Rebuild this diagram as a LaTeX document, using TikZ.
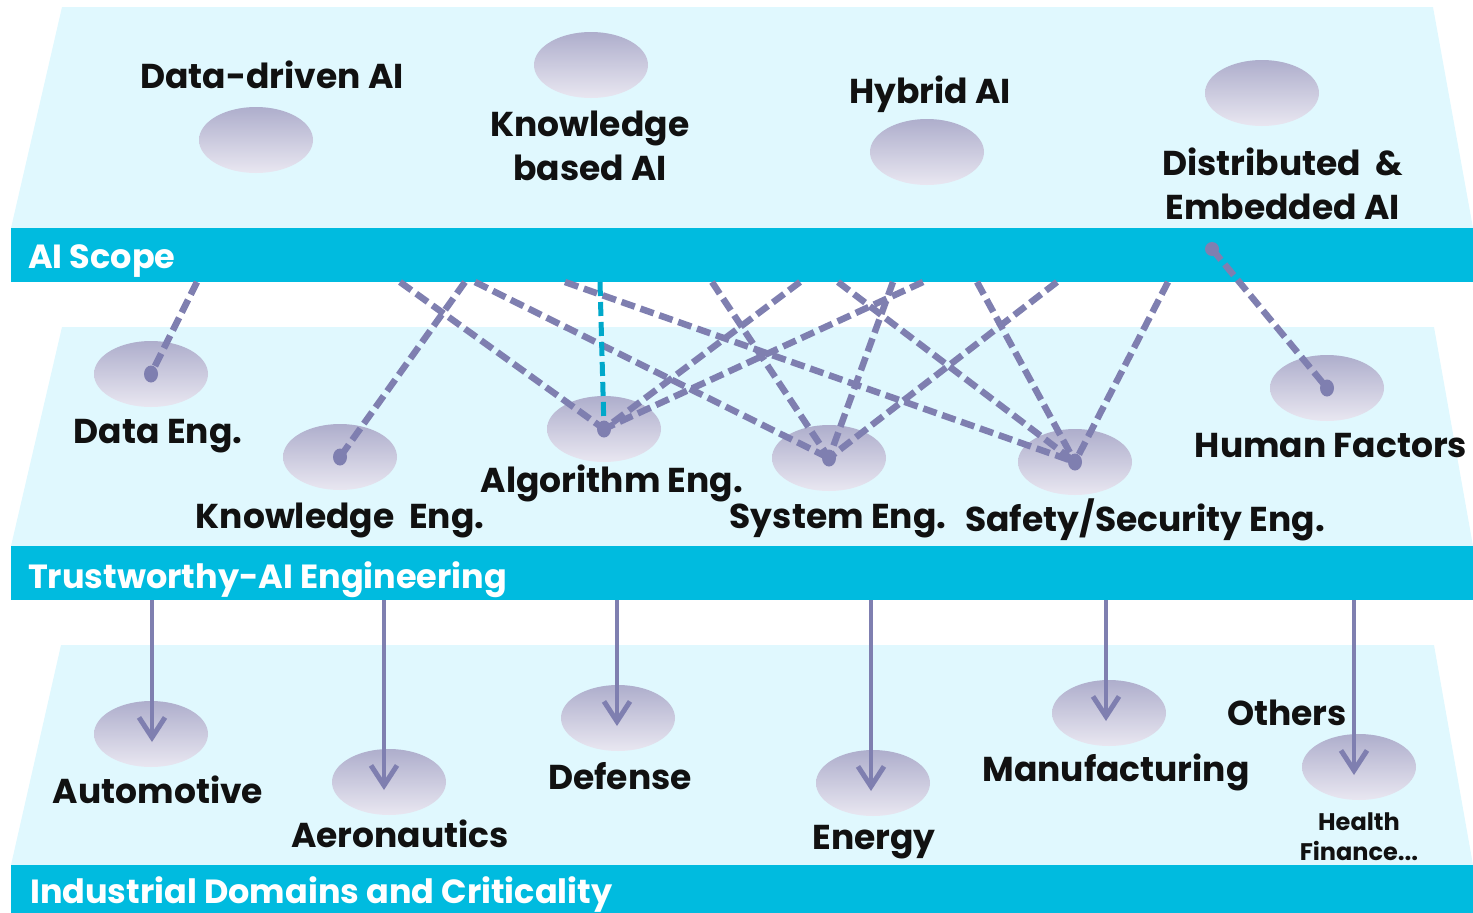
\documentclass[tikz,border=0pt]{standalone}
\usepackage{fontspec}
\setmainfont{Poppins}
\usetikzlibrary{shapes.geometric,arrows.meta}

\definecolor{layerc}{HTML}{E0F8FE}
\definecolor{bandc}{HTML}{00BBDF}
\definecolor{lnkc}{HTML}{7F7FB0}
\definecolor{cylnk}{HTML}{00A8CA}
\definecolor{elltop}{HTML}{AEAECC}
\definecolor{ellbot}{HTML}{E9E7F1}
\definecolor{inkc}{HTML}{111111}

\begin{document}
\begin{tikzpicture}[x=1pt,y=-1pt,
                    every text node part/.style={align=center},
                    lbl/.style={font=\fontsize{34.5}{44}\selectfont\bfseries,text=inkc,inner sep=0pt,anchor=base},
                    bandlbl/.style={font=\fontsize{33.5}{40}\selectfont\bfseries,text=white,inner sep=0pt,anchor=base west},
                    link/.style={draw=lnkc,line width=6.5pt,dash pattern=on 14pt off 6pt},
                    domarrow/.style={draw=lnkc,line width=4pt,-{Straight Barb[length=20pt,width=26pt,line width=5pt]}}]
  \tikzstyle{blob}=[ellipse,minimum width=114pt,minimum height=66pt,inner sep=0pt,
                    top color=elltop,bottom color=ellbot,draw=none]

  \useasboundingbox (0,0) rectangle (1473,913);

  \fill[layerc] (62,7) -- (1433,7) -- (1473,228) -- (11,228) -- cycle;
  \fill[layerc] (62,327) -- (1434,327) -- (1473,546) -- (11,546) -- cycle;
  \fill[layerc] (61,645) -- (1434,645) -- (1473,865) -- (11,865) -- cycle;

  \fill[bandc] (11,228) rectangle (1473,282);
  \fill[bandc] (11,546) rectangle (1473,600);
  \fill[bandc] (11,865) rectangle (1473,913);

  \node[bandlbl] (scope) at (28,268) {AI Scope};
  \node[bandlbl] (trust) at (28,588) {Trustworthy-AI Engineering};
  \node[bandlbl] (indus) at (30,903) {Industrial Domains and Criticality};

  \node[blob] (dda) at (256,140) {};
  \node[blob] (kba) at (591,65) {};
  \node[blob] (hya) at (927,152) {};
  \node[blob] (dea) at (1262,93) {};

  \node[lbl] (ddt) at (272,88) {Data-driven AI};
  \node[lbl] (kbt) at (590,180) {Knowledge\\based AI};
  \node[lbl] (hyt) at (930,103) {Hybrid AI};
  \node[lbl,anchor=base west,align=left] (det) at (1162,219) {Distributed\ \ \&\\Embedded AI};

  \node[blob] (den) at (151,374) {};
  \node[blob] (ken) at (340,457) {};
  \node[blob] (aen) at (604,429) {};
  \node[blob] (sen) at (829,458) {};
  \node[blob] (ssn) at (1075,462) {};
  \node[blob] (hfn) at (1327,388) {};

  \node[lbl] (dent) at (158,443) {Data Eng.};
  \node[lbl] (kent) at (340,528) {Knowledge\ \ Eng.};
  \node[lbl] (aent) at (612,492) {Algorithm Eng.};
  \node[lbl] (sent) at (838,528) {System Eng.};
  \node[lbl] (ssnt) at (1145,531) {Safety/Security Eng.};
  \node[lbl] (hfnt) at (1331,457) {Human Factors};

  \node[blob] (aut) at (151,734) {};
  \node[blob] (aer) at (389,782) {};
  \node[blob] (def) at (618,718) {};
  \node[blob] (ene) at (873,783) {};
  \node[blob] (man) at (1109,713) {};
  \node[blob] (oth) at (1359,767) {};

  \node[lbl] (autt) at (158,803) {Automotive};
  \node[lbl] (aert) at (400,847) {Aeronautics};
  \node[lbl] (deft) at (620,789) {Defense};
  \node[lbl] (enet) at (874,849) {Energy};
  \node[lbl] (mant) at (1116,781) {Manufacturing};
  \node[lbl] (otht) at (1287,725) {Others};
  \node[lbl,font=\fontsize{24}{30}\selectfont\bfseries] (hft) at (1359,860) {Health\\Finance...};

  \foreach \sx [count=\i] in {197,400,465,475,565,712,800,838,893,923,977,1057,1168}
    \coordinate (s\i) at (\sx,282);
  \coordinate (cy) at (600,282);
  \coordinate (hfs) at (1212,249);

  \path[link] (s1) edge (den.center)
              (s2) edge (aen.center)
              (s3) edge (ken.center)
              (s4) edge (sen.center)
              (s5) edge (ssn.center)
              (s6) edge (sen.center)
              (s7) edge (aen.center)
              (s8) edge (ssn.center)
              (s9) edge (sen.center)
              (s10) edge (aen.center)
              (s11) edge (ssn.center)
              (s12) edge (sen.center)
              (s13) edge (ssn.center)
              (hfs) edge (hfn.center);
  \draw[link,draw=cylnk,line width=5pt] (cy) -- (aen.center);

  \foreach \n in {den,ken,aen,sen,ssn,hfn}
    \fill[lnkc] (\n.center) ellipse (7 and 8.5);
  \fill[lnkc] (hfs) circle (7);

  \foreach \bx/\d in {152/aut,384/aer,617/def,871/ene,1106/man,1354/oth}
    \coordinate (b\d) at (\bx,600);
  \foreach \d in {aut,aer,def,ene,man,oth}
    \draw[domarrow,shorten >=-8pt] (b\d) -- (b\d |- \d.center);
\end{tikzpicture}
\end{document}
